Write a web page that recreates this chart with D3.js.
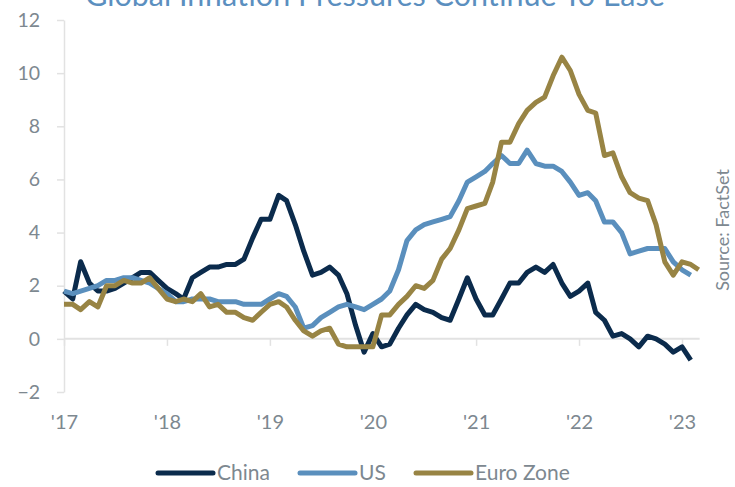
<!DOCTYPE html>
<html>
<head>
<meta charset="utf-8">
<script src="https://cdn.jsdelivr.net/npm/d3@7"></script>
<style>
  body { margin: 0; background: #fff; }
  svg text { font-family: Lato, "Open Sans", sans-serif; }
</style>
</head>
<body>
<svg id="chart" width="735" height="487"></svg>
<script>
// monthly readings, first point plotted at Jan '17
const china = [1.8, 1.5, 2.9, 2.1, 1.8, 1.8, 1.9, 2.1, 2.3, 2.5, 2.5, 2.2, 1.9,
  1.7, 1.5, 2.3, 2.5, 2.7, 2.7, 2.8, 2.8, 3.0, 3.8, 4.5, 4.5,
  5.4, 5.2, 4.3, 3.3, 2.4, 2.5, 2.7, 2.4, 1.7, 0.5, -0.5, 0.2,
  -0.3, -0.2, 0.4, 0.9, 1.3, 1.1, 1.0, 0.8, 0.7, 1.5, 2.3, 1.5,
  0.9, 0.9, 1.5, 2.1, 2.1, 2.5, 2.7, 2.5, 2.8, 2.1, 1.6, 1.8,
  2.1, 1.0, 0.7, 0.1, 0.2, 0.0, -0.3, 0.1, 0.0, -0.2, -0.5, -0.3,
  -0.8];
const us = [1.8, 1.7, 1.8, 1.9, 2.0, 2.2, 2.2, 2.3, 2.3, 2.2, 2.1, 1.9, 1.7,
  1.4, 1.4, 1.5, 1.5, 1.5, 1.4, 1.4, 1.4, 1.3, 1.3, 1.3, 1.5,
  1.7, 1.6, 1.2, 0.4, 0.5, 0.8, 1.0, 1.2, 1.3, 1.2, 1.1, 1.3,
  1.5, 1.8, 2.6, 3.7, 4.1, 4.3, 4.4, 4.5, 4.6, 5.2, 5.9, 6.1,
  6.3, 6.6, 6.9, 6.6, 6.6, 7.1, 6.6, 6.5, 6.5, 6.3, 5.9, 5.4,
  5.5, 5.2, 4.4, 4.4, 4.0, 3.2, 3.3, 3.4, 3.4, 3.4, 2.9, 2.6,
  2.4];
const euro = [1.3, 1.3, 1.1, 1.4, 1.2, 2.0, 2.0, 2.2, 2.1, 2.1, 2.3, 1.9, 1.5,
  1.4, 1.5, 1.4, 1.7, 1.2, 1.3, 1.0, 1.0, 0.8, 0.7, 1.0, 1.3,
  1.4, 1.2, 0.7, 0.3, 0.1, 0.3, 0.4, -0.2, -0.3, -0.3, -0.3, -0.3,
  0.9, 0.9, 1.3, 1.6, 2.0, 1.9, 2.2, 3.0, 3.4, 4.1, 4.9, 5.0,
  5.1, 5.9, 7.4, 7.4, 8.1, 8.6, 8.9, 9.1, 9.9, 10.6, 10.1, 9.2,
  8.6, 8.5, 6.9, 7.0, 6.1, 5.5, 5.3, 5.2, 4.3, 2.9, 2.4, 2.9,
  2.8, 2.6];

const seriesNames = ['China', 'US', 'Euro Zone'];
const seriesColors = ['#0b2b4c', '#5a8fbd', '#988444'];
const yTicks = [-2, 0, 2, 4, 6, 8, 10, 12];

const textColor = '#7d8890';
const axisColor = '#e2e2e2';

const svg = d3.select('#chart');
const start = new Date(2017, 0, 1);
const monthDate = i => d3.timeMonth.offset(start, i);

const x = d3.scaleTime()
  .domain([start, new Date(2023, 0, 1)])
  .range([64, 682]);
const y = d3.scaleLinear()
  .domain([-2, 12])
  .range([392, 20]);

// title, mostly cut off at the top (as in the source image)
svg.append('text')
  .attr('x', 375)
  .attr('y', 6)
  .attr('text-anchor', 'middle')
  .attr('fill', '#5b8fbf')
  .style('font-size', '30.5px')
  .text('Global Inflation Pressures Continue To Ease');

const yAxis = svg.append('g')
  .attr('transform', 'translate(64,0)')
  .call(d3.axisLeft(y).tickValues(yTicks).tickSize(7).tickSizeOuter(0).tickPadding(17));
yAxis.select('.domain').attr('stroke', axisColor).attr('stroke-width', 1.5);
yAxis.selectAll('.tick line').attr('stroke', axisColor).attr('stroke-width', 1.5);
yAxis.selectAll('.tick text')
  .attr('fill', textColor)
  .style('font-size', '19.5px');

const xEnd = x(monthDate(74)) + 1;
const xAxis = svg.append('g')
  .attr('transform', `translate(0,${y(0)})`)
  .call(d3.axisBottom(x)
    .ticks(d3.timeYear.every(1))
    .tickFormat(d3.timeFormat("'%y"))
    .tickSize(7)
    .tickSizeOuter(0)
    .tickPadding(69));
xAxis.select('.domain')
  .attr('d', `M${x.range()[0]},0H${xEnd}`)
  .attr('stroke', axisColor).attr('stroke-width', 2);
xAxis.selectAll('.tick line').attr('stroke', axisColor).attr('stroke-width', 1.5);
xAxis.selectAll('.tick text')
  .attr('fill', textColor)
  .style('font-size', '20px');

const line = d3.line()
  .x((d, i) => x(monthDate(i)))
  .y(d => y(d));

[china, us, euro].forEach((vals, k) => {
  svg.append('path')
    .datum(vals)
    .attr('fill', 'none')
    .attr('stroke', seriesColors[k])
    .attr('stroke-width', 5)
    .attr('stroke-linejoin', 'round')
    .attr('d', line);
});

// legend
const legendX = [158, 300, 416];
const legend = svg.append('g').attr('class', 'legend');
seriesNames.forEach((name, k) => {
  const g = legend.append('g').attr('transform', `translate(${legendX[k]},473)`);
  g.append('line')
    .attr('x1', 0).attr('x2', 55)
    .attr('stroke', seriesColors[k])
    .attr('stroke-width', 5)
    .attr('stroke-linecap', 'round');
  g.append('text')
    .attr('x', 59)
    .attr('dy', '0.35em')
    .attr('fill', textColor)
    .style('font-size', '21px')
    .text(name);
});

svg.append('text')
  .attr('transform', 'translate(729,230) rotate(-90)')
  .attr('text-anchor', 'middle')
  .attr('fill', textColor)
  .style('font-size', '18px')
  .text('Source: FactSet');
</script>
</body>
</html>
